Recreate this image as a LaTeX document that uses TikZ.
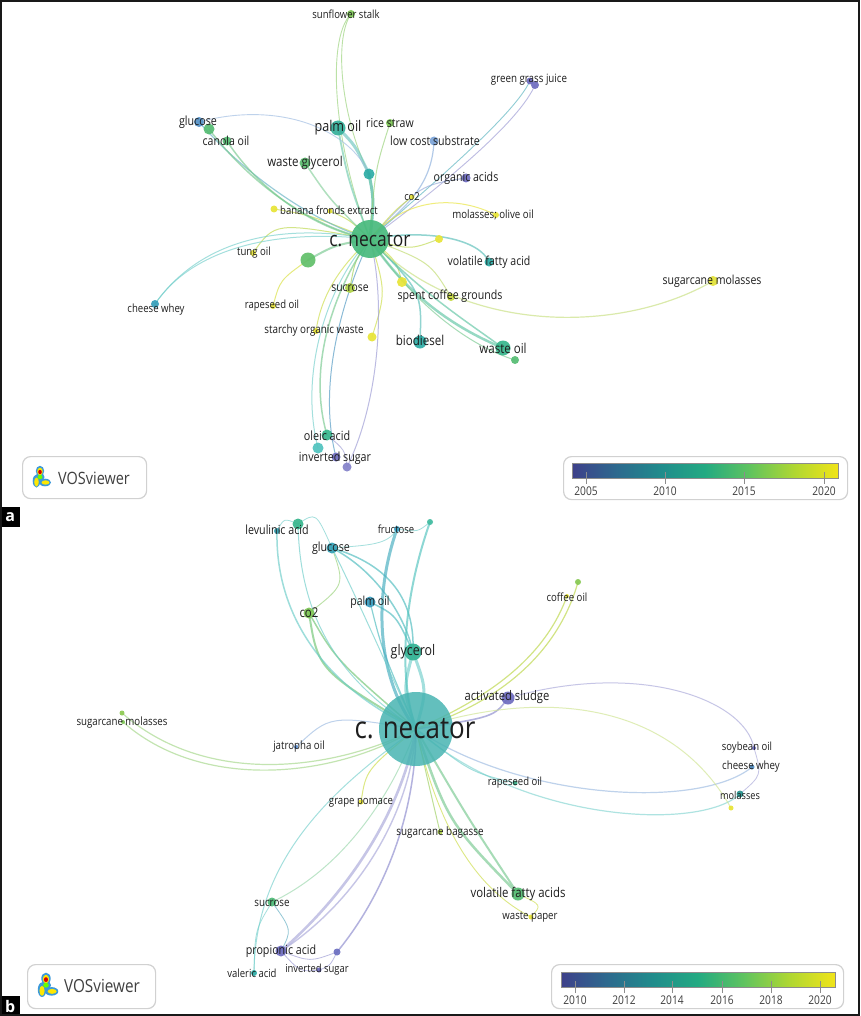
\documentclass[tikz,border=0pt]{standalone}
\usepackage{fontspec}
\setmainfont{Open Sans}
\pgfdeclarelayer{bgl}
\pgfdeclarelayer{edgel}
\pgfsetlayers{bgl,edgel,main}
\definecolor{cy}{RGB}{232,228,55}
\definecolor{cyg}{RGB}{175,210,70}
\definecolor{clg}{RGB}{125,198,85}
\definecolor{cg}{RGB}{85,188,115}
\definecolor{cgt}{RGB}{55,182,140}
\definecolor{ct}{RGB}{45,172,165}
\definecolor{ctl}{RGB}{80,195,190}
\definecolor{ctb}{RGB}{55,155,190}
\definecolor{cb}{RGB}{90,140,205}
\definecolor{cp}{RGB}{110,108,192}
\definecolor{cnA}{RGB}{72,186,125}
\definecolor{cnB}{RGB}{72,180,178}
\definecolor{labc}{RGB}{30,30,30}
\definecolor{v0}{RGB}{62,64,138}
\definecolor{v1}{RGB}{45,105,142}
\definecolor{v2}{RGB}{32,140,140}
\definecolor{v3}{RGB}{35,170,130}
\definecolor{v4}{RGB}{95,195,95}
\definecolor{v5}{RGB}{175,215,50}
\definecolor{v6}{RGB}{240,228,25}
\pgfdeclarehorizontalshading{viridisbar}{100bp}{color(0bp)=(v0); color(25bp)=(v0); color(33.3bp)=(v1); color(41.7bp)=(v2); color(50bp)=(v3); color(58.3bp)=(v4); color(66.7bp)=(v5); color(75bp)=(v6); color(100bp)=(v6)}
\newcommand{\sq}[1]{\scalebox{0.85}[1]{#1}}
\newcommand{\vosIconDraw}{%
  \fill[cyan!70!blue!80] (8,4) ellipse (4.2 and 5.2);
  \fill[cyan!70!blue!80] (4.5,14) ellipse (3.8 and 6.5);
  \fill[cyan!70!blue!80] (13,15.5) ellipse (6 and 3.8);
  \fill[cyan!70!blue!80] (8,10) ellipse (4.5 and 4);
  \fill[yellow!90!orange] (8,4.5) ellipse (2.8 and 3.8);
  \fill[yellow!90!orange] (4.5,15) ellipse (2.3 and 4.5);
  \fill[yellow!90!orange] (13.5,15.5) ellipse (4 and 2.2);
  \fill[green!60!yellow] (8,10) ellipse (2.5 and 2.2);
  \fill[red!85!black] (8,5) ellipse (1.8 and 2.2);
}
\tikzset{
  vdot/.style={circle, inner sep=0pt, minimum size=#1, fill opacity=0.92},
  lab/.style={inner sep=0pt, text=labc, font=\fontsize{#1}{#1}\selectfont},
  ed/.style={line cap=round, draw opacity=0.65},
  panelbox/.style={draw=black!18, line width=1.2pt, fill=white, rounded corners=8pt},
  tickl/.style={draw=black!45, line width=0.6pt},
  ticklab/.style={inner sep=0pt, text=black!75, font=\fontsize{12}{12}\selectfont},
  plab/.style={fill=black, text=white, inner sep=0pt, minimum width=20pt, minimum height=20pt, anchor=north west, font=\bfseries\fontsize{16}{16}\selectfont}
}
\begin{document}
\begin{tikzpicture}[x=1pt,y=-1pt]
\useasboundingbox (0,0) rectangle (860,1016);
\begin{pgfonlayer}{bgl}
\fill[white] (0,0) rectangle (860,1016);
\end{pgfonlayer}

% ================= PANEL A nodes =================
\node[vdot=38, fill=cnA] (aN) at (370,239) {};
\node[vdot=8, fill=clg] (aSun) at (351,14) {};
\node[vdot=7, fill=cp] (aGgj1) at (530,81) {};
\node[vdot=8, fill=cp] (aGgj2) at (535,85) {};
\node[vdot=15, fill=ct!80!cg] (aPalm) at (338,128) {};
\node[vdot=8, fill=clg] (aRice) at (390,123) {};
\node[vdot=9, fill=cb!80!white] (aLcs) at (434,141) {};
\node[vdot=9, fill=cp] (aOrg) at (466,178) {};
\node[vdot=5, fill=cy] (aCo2) at (412,197) {};
\node[vdot=6, fill=cy] (aMol) at (496,215) {};
\node[vdot=5, fill=cy] (aBan) at (330,211) {};
\node[vdot=7, fill=cy] (aBanY) at (274,209) {};
\node[vdot=11, fill=cg!85!clg] (aWgl) at (305,163) {};
\node[vdot=11, fill=ct] (aTeal) at (369,174) {};
\node[vdot=10, fill=cb!85!ct] (aGlu) at (199,122) {};
\node[vdot=11, fill=cg] (aGd) at (209,129) {};
\node[vdot=9, fill=cg] (aCan) at (227,141) {};
\node[vdot=6, fill=cy] (aTung) at (253,253) {};
\node[vdot=15, fill=cg!70!clg] (aGdot) at (308,260) {};
\node[vdot=8, fill=cy] (aY1) at (439,239) {};
\node[vdot=9, fill=ct] (aVfa) at (489,262) {};
\node[vdot=10, fill=cyg] (aSuc) at (350,288) {};
\node[vdot=6, fill=cy] (aRap) at (273,306) {};
\node[vdot=6, fill=cy] (aStar) at (316,331) {};
\node[vdot=9, fill=cy] (aY2) at (372,337) {};
\node[vdot=10, fill=cy] (aY3) at (402,282) {};
\node[vdot=8, fill=cyg!60!cy] (aSpent) at (451,297) {};
\node[vdot=13, fill=ct] (aBio) at (420,342) {};
\node[vdot=15, fill=cgt] (aWoil) at (503,348) {};
\node[vdot=8, fill=cg] (aWsm) at (515,360) {};
\node[vdot=10, fill=cy!90!cyg] (aSugm) at (713,281) {};
\node[vdot=8, fill=ctb!80!ct] (aChe) at (155,304) {};
\node[vdot=11, fill=cgt] (aOle) at (327,435) {};
\node[vdot=11, fill=ctl] (aTd) at (318,448) {};
\node[vdot=9, fill=cp] (aInv1) at (336,457) {};
\node[vdot=9, fill=cp!85!white] (aInv2) at (347,467) {};

% ================= PANEL A edges =================
\begin{pgfonlayer}{edgel}
\draw[ed, draw=clg!80!white, line width=0.9] (aN.center) .. controls (335,150) and (325,40) .. (aSun.center);
\draw[ed, draw=clg!80!white, line width=0.9] (aTeal.center) .. controls (342,120) and (333,40) .. (aSun.center);
\draw[ed, draw=cp!70!white, line width=0.9] (aN.center) .. controls (450,180) and (520,120) .. (aGgj2.center);
\draw[ed, draw=ctl!80!cp, line width=0.9] (aN.center) .. controls (444,174) and (514,114) .. (aGgj1.center);
\draw[ed, draw=ct!70!white, line width=3] (aPalm.center) .. controls (355,145) .. (aTeal.center);
\draw[ed, draw=ct!70!cg, line width=3] (aTeal.center) .. controls (374,200) .. (aN.center);
\draw[ed, draw=cgt!70!white, line width=1.8] (aPalm.center) .. controls (348,180) .. (aN.center);
\draw[ed, draw=clg!80!white, line width=1] (aRice.center) .. controls (375,170) .. (aN.center);
\draw[ed, draw=cb!70!white, line width=1.2] (aLcs.center) .. controls (432,190) and (400,210) .. (aN.center);
\draw[ed, draw=cb!60!cp!70!white, line width=1] (aOrg.center) .. controls (420,185) .. (aN.center);
\draw[ed, draw=cy!80!cg, line width=1] (aCo2.center) .. controls (395,210) .. (aN.center);
\draw[ed, draw=cy, line width=1] (aMol.center) .. controls (450,192) and (400,202) .. (aN.center);
\draw[ed, draw=cy!80!cg, line width=1] (aBanY.center) .. controls (310,215) .. (aN.center);
\draw[ed, draw=cy!70!cg, line width=1] (aBan.center) .. controls (350,220) .. (aN.center);
\draw[ed, draw=cg!70!white, line width=1.5] (aWgl.center) .. controls (330,200) .. (aN.center);
\draw[ed, draw=ct!60!cb!80!white, line width=1.2] (aGlu.center) .. controls (250,180) and (320,225) .. (aN.center);
\draw[ed, draw=cg!80!white, line width=1.5] (aGd.center) .. controls (255,190) and (320,230) .. (aN.center);
\draw[ed, draw=cg!80!white, line width=1.5] (aCan.center) .. controls (262,195) and (322,232) .. (aN.center);
\draw[ed, draw=cb!60!white, line width=0.9] (aGlu.center) .. controls (280,100) and (350,130) .. (aTeal.center);
\draw[ed, draw=cy!70!cg, line width=1] (aTung.center) .. controls (275,222) .. (aN.center);
\draw[ed, draw=ctl!80!white, line width=1] (aChe.center) .. controls (200,240) and (280,222) .. (aN.center);
\draw[ed, draw=ctl!80!white, line width=1] (aChe.center) .. controls (194,246) and (280,229) .. (aN.center);
\draw[ed, draw=cg!80!white, line width=2] (aGdot.center) .. controls (335,245) .. (aN.center);
\draw[ed, draw=cy!70!cg, line width=1] (aY1.center) .. controls (410,250) .. (aN.center);
\draw[ed, draw=ct!80!white, line width=1.5] (aN.center) .. controls (430,228) and (480,240) .. (aVfa.center);
\draw[ed, draw=cyg!80!cg, line width=1] (aSuc.center) .. controls (355,260) .. (aN.center);
\draw[ed, draw=cy!90!cg, line width=1] (aRap.center) .. controls (280,280) .. (aGdot.center);
\draw[ed, draw=cy!80!cg, line width=1] (aStar.center) .. controls (322,290) and (345,262) .. (aN.center);
\draw[ed, draw=cy!80!cg, line width=1] (aY2.center) .. controls (386,292) .. (aN.center);
\draw[ed, draw=cy!80!cg, line width=1] (aY3.center) .. controls (396,260) .. (aN.center);
\draw[ed, draw=cyg!80!white, line width=1] (aSpent.center) .. controls (430,262) .. (aN.center);
\draw[ed, draw=ct!80!white, line width=1.5] (aBio.center) .. controls (422,292) .. (aN.center);
\draw[ed, draw=cgt!80!white, line width=2.5] (aN.center) .. controls (410,300) and (460,330) .. (aWoil.center);
\draw[ed, draw=cgt!80!white, line width=1.5] (aN.center) .. controls (422,294) and (472,325) .. (aWoil.center);
\draw[ed, draw=cg!80!white, line width=1] (aN.center) .. controls (415,306) and (470,346) .. (aWsm.center);
\draw[ed, draw=cyg!70!white, line width=1.2] (aN.center) .. controls (460,335) and (620,335) .. (aSugm.center);
\draw[ed, draw=cg!80!white, line width=1.5] (aOle.center) .. controls (305,360) and (340,280) .. (aN.center);
\draw[ed, draw=ctl!80!white, line width=1] (aTd.center) .. controls (298,370) and (330,280) .. (aN.center);
\draw[ed, draw=cp!70!white, line width=1] (aInv2.center) .. controls (380,400) and (386,300) .. (aN.center);
\draw[ed, draw=cb!70!ct, line width=1] (aInv1.center) .. controls (316,380) and (346,290) .. (aN.center);
\draw[ed, draw=cp!70!white, line width=0.8] (aOle.center) .. controls (345,450) .. (aInv2.center);
\end{pgfonlayer}

% ================= PANEL A labels =================
\node[lab=20.5] (aNl) at (370,240) {\sq{c. necator}};
\node[lab=11.2] (aSunl) at (346,14) {\sq{sunflower stalk}};
\node[lab=11.5] (aGgjl) at (529,80) {\sq{green grass juice}};
\node[lab=14.8] (aPalml) at (338,128) {\sq{palm oil}};
\node[lab=12.4] (aRicel) at (390,123) {\sq{rice straw}};
\node[lab=12.5] (aLcsl) at (435,141) {\sq{low cost substrate}};
\node[lab=12.5] (aOrgl) at (466,178) {\sq{organic acids}};
\node[lab=11] (aCo2l) at (412,197) {\sq{co2}};
\node[lab=11.4] (aMoll) at (493,215) {\sq{molasses; olive oil}};
\node[lab=11.2] (aBanl) at (329,210) {\sq{banana fronds extract}};
\node[lab=13.5] (aWgll) at (305,163) {\sq{waste glycerol}};
\node[lab=12.6] (aGlul) at (198,122) {\sq{glucose}};
\node[lab=12.4] (aCanl) at (226,141) {\sq{canola oil}};
\node[lab=11.3] (aTungl) at (254,253) {\sq{tung oil}};
\node[lab=12.4] (aVfal) at (489,262) {\sq{volatile fatty acid}};
\node[lab=12.2] (aSucl) at (350,288) {\sq{sucrose}};
\node[lab=11.2] (aRapl) at (272,306) {\sq{rapeseed oil}};
\node[lab=11.6] (aStarl) at (314,330) {\sq{starchy organic waste}};
\node[lab=12.5] (aSpentl) at (450,296) {\sq{spent coffee grounds}};
\node[lab=13.6] (aBiol) at (420,340) {\sq{biodiesel}};
\node[lab=13.6] (aWoill) at (503,348) {\sq{waste oil}};
\node[lab=12.4] (aSugml) at (712,281) {\sq{sugarcane molasses}};
\node[lab=11.3] (aChel) at (156,310) {\sq{cheese whey}};
\node[lab=12.7] (aOlel) at (327,436) {\sq{oleic acid}};
\node[lab=12.6] (aInvl) at (335,458) {\sq{inverted sugar}};

% ================= PANEL B nodes =================
\node[vdot=74, fill=cnB, fill opacity=0.85] (bN) at (416,729) {};
\node[vdot=17, fill=cgt!70!ct] (bGly) at (413,652) {};
\node[vdot=11, fill=ctb] (bPalm) at (370,602) {};
\node[vdot=11, fill=clg] (bCo2) at (309,613) {};
\node[vdot=11, fill=ctb!70!ct] (bGlu) at (332,548) {};
\node[vdot=6, fill=ctb!60!ct] (bLev) at (277,531) {};
\node[vdot=11, fill=cgt] (bLev2) at (298,524) {};
\node[vdot=6, fill=ctb] (bFru) at (397,529) {};
\node[vdot=6, fill=cgt!60!ctl] (bTd) at (430,522) {};
\node[vdot=6, fill=clg!80!cyg] (bCof) at (578,582) {};
\node[vdot=4, fill=cy] (bCofY) at (567,596) {};
\node[vdot=13, fill=cp] (bAct) at (508,698) {};
\node[vdot=4, fill=cb] (bJat) at (296,747) {};
\node[vdot=5, fill=cy] (bGrape) at (361,802) {};
\node[vdot=5, fill=cyg] (bBag) at (440,832) {};
\node[vdot=5, fill=cgt] (bRap) at (515,783) {};
\node[vdot=4, fill=cp] (bSoy) at (754,748) {};
\node[vdot=5, fill=ctb!60!cp] (bChe) at (752,767) {};
\node[vdot=7, fill=ct!85!black] (bMol) at (740,794) {};
\node[vdot=5, fill=cy] (bMolY) at (731,808) {};
\node[vdot=4, fill=clg] (bSugm) at (123,722) {};
\node[vdot=5, fill=clg!70!cyg] (bSugm2) at (122,713) {};
\node[vdot=13, fill=cg] (bVfa) at (518,894) {};
\node[vdot=5, fill=cy] (bWp) at (531,917) {};
\node[vdot=9, fill=cg!80!cgt] (bSuc) at (272,902) {};
\node[vdot=11, fill=cp] (bProp) at (281,951) {};
\node[vdot=7, fill=cp!90!cb] (bPd) at (337,952) {};
\node[vdot=5, fill=cp] (bInv) at (319,970) {};
\node[vdot=6, fill=ct] (bVal) at (254,973) {};

% ================= PANEL B edges =================
\begin{pgfonlayer}{edgel}
\draw[ed, draw=ctl!80!white, line width=3] (bN.center) .. controls (403,690) .. (bGly.center);
\draw[ed, draw=ctl!80!white, line width=3] (bN.center) .. controls (427,690) .. (bGly.center);
\draw[ed, draw=ctl!80!ctb, line width=1.5] (bGlu.center) .. controls (375,570) and (405,615) .. (bGly.center);
\draw[ed, draw=ctl!80!ctb, line width=1.5] (bGlu.center) .. controls (390,565) and (415,600) .. (bGly.center);
\draw[ed, draw=ctl!80!ctb, line width=1.5] (bPalm.center) .. controls (396,615) .. (bGly.center);
\draw[ed, draw=ctl!80!ctb, line width=1.2] (bPalm.center) .. controls (382,650) .. (bN.center);
\draw[ed, draw=ctb!60!ctl, line width=3] (bFru.center) .. controls (372,600) and (378,680) .. (bN.center);
\draw[ed, draw=ctl, line width=2] (bTd.center) .. controls (406,590) and (396,670) .. (bN.center);
\draw[ed, draw=ctl!80!white, line width=0.8] (bGlu.center) .. controls (370,545) and (388,545) .. (bFru.center);
\draw[ed, draw=ctl!80!white, line width=0.8] (bFru.center) .. controls (418,532) .. (bTd.center);
\draw[ed, draw=ctl!80!white, line width=0.8] (bLev2.center) .. controls (316,512) .. (bGlu.center);
\draw[ed, draw=ctl!80!white, line width=0.8] (bLev.center) .. controls (284,518) .. (bLev2.center);
\draw[ed, draw=clg!80!white, line width=0.9] (bGlu.center) .. controls (345,585) .. (bCo2.center);
\draw[ed, draw=clg!70!ctl, line width=2] (bCo2.center) .. controls (318,670) .. (bN.center);
\draw[ed, draw=clg!70!ctl, line width=1.5] (bCo2.center) .. controls (336,660) .. (bN.center);
\draw[ed, draw=ctl!85!white, line width=1.5] (bLev.center) .. controls (275,620) and (330,690) .. (bN.center);
\draw[ed, draw=ctl!85!white, line width=1] (bLev2.center) .. controls (300,620) and (340,680) .. (bN.center);
\draw[ed, draw=ctl!85!white, line width=1] (bGlu.center) .. controls (358,600) and (384,660) .. (bN.center);
\draw[ed, draw=cyg!80!cy, line width=1.2] (bCof.center) .. controls (556,660) and (490,706) .. (bN.center);
\draw[ed, draw=cyg!80!cy, line width=1.2] (bCofY.center) .. controls (544,660) and (484,700) .. (bN.center);
\draw[ed, draw=cp!80!white, line width=1.6] (bAct.center) .. controls (494,717) .. (bN.center);
\draw[ed, draw=cp!60!white, line width=1] (bAct.center) .. controls (640,660) and (745,700) .. (bSoy.center);
\draw[ed, draw=cb!60!white, line width=1.2] (bN.center) .. controls (520,800) and (700,810) .. (bChe.center);
\draw[ed, draw=ctl!70!white, line width=1.2] (bN.center) .. controls (520,822) and (700,832) .. (bMol.center);
\draw[ed, draw=cyg!60!white, line width=1] (bN.center) .. controls (540,688) and (670,700) .. (bMolY.center);
\draw[ed, draw=cp!60!white, line width=0.8] (bSoy.center) .. controls (762,775) .. (bMol.center);
\draw[ed, draw=ctl!80!white, line width=1] (bN.center) .. controls (470,772) .. (bRap.center);
\draw[ed, draw=cb!60!white, line width=1] (bJat.center) .. controls (330,715) .. (bN.center);
\draw[ed, draw=clg!70!white, line width=1.2] (bSugm.center) .. controls (200,790) and (330,780) .. (bN.center);
\draw[ed, draw=clg!70!white, line width=1.2] (bSugm2.center) .. controls (205,786) and (330,772) .. (bN.center);
\draw[ed, draw=cy!80!cg, line width=1] (bGrape.center) .. controls (366,770) .. (bN.center);
\draw[ed, draw=cyg!80!ctl, line width=1] (bBag.center) .. controls (430,790) .. (bN.center);
\draw[ed, draw=cg!80!white, line width=2.5] (bN.center) .. controls (448,822) .. (bVfa.center);
\draw[ed, draw=cg!80!white, line width=2] (bN.center) .. controls (466,815) .. (bVfa.center);
\draw[ed, draw=cy!80!cg, line width=0.9] (bWp.center) .. controls (462,882) and (432,800) .. (bN.center);
\draw[ed, draw=cy!80!cg, line width=0.8] (bWp.center) .. controls (542,905) .. (bVfa.center);
\draw[ed, draw=cg!60!white, line width=1] (bSuc.center) .. controls (340,870) and (390,800) .. (bN.center);
\draw[ed, draw=ctl!70!cp, line width=0.8] (bSuc.center) .. controls (292,930) .. (bProp.center);
\draw[ed, draw=ctl!80!white, line width=1] (bVal.center) .. controls (255,860) and (330,790) .. (bN.center);
\draw[ed, draw=ctl!80!white, line width=0.8] (bVal.center) .. controls (255,930) .. (bSuc.center);
\draw[ed, draw=cp!60!white, line width=2.6] (bProp.center) .. controls (340,900) and (400,820) .. (bN.center);
\draw[ed, draw=cp!60!white, line width=1.4] (bProp.center) .. controls (352,905) and (410,820) .. (bN.center);
\draw[ed, draw=cp!80!white, line width=1.5] (bPd.center) .. controls (380,900) and (416,820) .. (bN.center);
\draw[ed, draw=cp!70!white, line width=0.8] (bProp.center) .. controls (300,972) .. (bInv.center);
\draw[ed, draw=cp!70!white, line width=0.8] (bPd.center) .. controls (330,966) .. (bInv.center);
\draw[ed, draw=cp!70!white, line width=0.8] (bProp.center) .. controls (310,962) .. (bPd.center);
\end{pgfonlayer}

% ================= PANEL B labels =================
\node[lab=30.5] (bNl) at (415,729) {\sq{c. necator}};
\node[lab=14.6] (bGlyl) at (413,652) {\sq{glycerol}};
\node[lab=12.4] (bPalml) at (370,602) {\sq{palm oil}};
\node[lab=13.5] (bCo2l) at (309,613) {\sq{co2}};
\node[lab=12.6] (bGlul) at (331,548) {\sq{glucose}};
\node[lab=12.6] (bLevl) at (277,530) {\sq{levulinic acid}};
\node[lab=11.2] (bFrul) at (396,529) {\sq{fructose}};
\node[lab=11.3] (bCofl) at (567,597) {\sq{coffee oil}};
\node[lab=13.2] (bActl) at (507,697) {\sq{activated sludge}};
\node[lab=11.4] (bJatl) at (299,747) {\sq{jatropha oil}};
\node[lab=11.3] (bGrapel) at (361,803) {\sq{grape pomace}};
\node[lab=11.6] (bBagl) at (440,832) {\sq{sugarcane bagasse}};
\node[lab=11.2] (bRapl) at (515,783) {\sq{rapeseed oil}};
\node[lab=11.2] (bSoyl) at (747,748) {\sq{soybean oil}};
\node[lab=11.4] (bChel) at (751,767) {\sq{cheese whey}};
\node[lab=10.8] (bMoll) at (740,795) {\sq{molasses}};
\node[lab=11.4] (bSugml) at (122,723) {\sq{sugarcane molasses}};
\node[lab=13.4] (bVfal) at (518,894) {\sq{volatile fatty acids}};
\node[lab=11.3] (bWpl) at (530,917) {\sq{waste paper}};
\node[lab=11.5] (bSucl) at (272,903) {\sq{sucrose}};
\node[lab=12.6] (bPropl) at (281,951) {\sq{propionic acid}};
\node[lab=11.1] (bInvl) at (317,970) {\sq{inverted sugar}};
\node[lab=11.2] (bVall) at (252,973) {\sq{valeric acid}};

% ================= logo boxes =================
\node[panelbox, minimum width=124pt, minimum height=42pt, anchor=north west] (aLogo) at (22,456) {};
\begin{scope}[shift={(32,467)}] \vosIconDraw \end{scope}
\node[inner sep=0pt, text=black!75, font=\fontsize{17}{17}\selectfont] (aLogoT) at (94,478) {\sq{VOSviewer}};
\node[panelbox, minimum width=128pt, minimum height=44pt, anchor=north west] (bLogo) at (27,964) {};
\begin{scope}[shift={(37,974)}, scale=1.12] \vosIconDraw \end{scope}
\node[inner sep=0pt, text=black!75, font=\fontsize{18}{18}\selectfont] (bLogoT) at (102,986) {\sq{VOSviewer}};

% ================= colour bars =================
\node[panelbox, minimum width=284pt, minimum height=43pt, anchor=north west] (aBarBox) at (563,456) {};
\shade[shading=viridisbar, draw=black!45, line width=0.6pt] (572,463) rectangle (838,478);
\foreach \xx/\yy in {586/2005, 665/2010, 744/2015, 824/2020} {
  \draw[tickl] (\xx,472) -- (\xx,484);
  \node[ticklab] at (\xx,491) {\sq{\yy}};
}
\node[panelbox, minimum width=292pt, minimum height=44pt, anchor=north west] (bBarBox) at (551,964) {};
\shade[shading=viridisbar, draw=black!45, line width=0.6pt] (561,972) rectangle (835,987);
\foreach \xx/\yy in {575/2010, 624/2012, 672/2014, 722/2016, 771/2018, 820/2020} {
  \draw[tickl] (\xx,981) -- (\xx,993);
  \node[ticklab] at (\xx,1000) {\sq{\yy}};
}

% ================= panel letters and frame =================
\node[plab] (pa) at (0,507) {a};
\node[plab] (pb) at (0,996) {b};
\draw[line width=2pt, black!90] (1,1) rectangle (859,1015);
\end{tikzpicture}
\end{document}
